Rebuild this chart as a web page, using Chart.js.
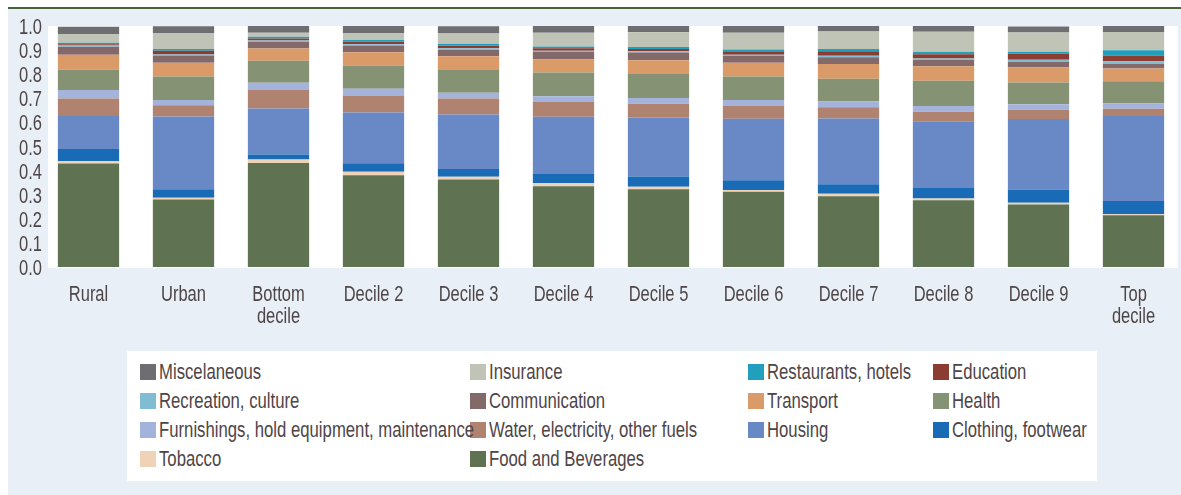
<!DOCTYPE html>
<html>
<head>
<meta charset="utf-8">
<script src="https://cdn.jsdelivr.net/npm/chart.js@4.4.1/dist/chart.umd.min.js"></script>
<style>
  html, body { margin: 0; padding: 0; background: #fff; }
  #wrap { position: relative; width: 1181px; height: 495px; overflow: hidden; }
  #bg { position: absolute; left: 8px; top: 9px; right: 0; bottom: 0; background: #e8eff6; }
  #topline { position: absolute; left: 8px; top: 7px; right: 0; height: 2px; background: #46613d; }
  #chart { position: absolute; left: 0; top: 0; }
  #legend {
    position: absolute; left: 127px; top: 351px; width: 970px; height: 130px;
    background: #fff; box-sizing: border-box; padding: 6px 0 0 13px;
    display: grid; grid-template-columns: 330px 278px 185px 160px; grid-auto-rows: 29px;
    font-family: "Liberation Sans", Arial, sans-serif;
    font-size: 22px; color: #4e4547;
  }
  .item { display: flex; align-items: center; white-space: nowrap; }
  .sw { width: 16px; height: 16px; margin-right: 3px; flex: none; }
  .txt { display: inline-block; transform: scaleX(0.76); transform-origin: left center; }
</style>
</head>
<body>
<div id="wrap">
  <div id="bg"></div>
  <div id="topline"></div>
  <canvas id="chart" width="1181" height="495"></canvas>
  <div id="legend"></div>
</div>
<script>
// categorias
const categorias = ['Rural', 'Urban', ['Bottom', 'decile'], 'Decile 2', 'Decile 3', 'Decile 4',
  'Decile 5', 'Decile 6', 'Decile 7', 'Decile 8', 'Decile 9', ['Top', 'decile']];

const yTicks = [0, 0.1, 0.2, 0.3, 0.4, 0.5, 0.6, 0.7, 0.8, 0.9, 1.0];

// valores (shares), de abajo hacia arriba
const food          = [0.429, 0.280, 0.432, 0.381, 0.363, 0.335, 0.323, 0.312, 0.294, 0.277, 0.259, 0.215];
const tobacco       = [0.010, 0.007, 0.014, 0.014, 0.011, 0.014, 0.010, 0.008, 0.010, 0.007, 0.008, 0.004];
const clothing      = [0.051, 0.036, 0.021, 0.035, 0.033, 0.037, 0.043, 0.040, 0.039, 0.044, 0.055, 0.055];
const housing       = [0.137, 0.301, 0.191, 0.211, 0.226, 0.237, 0.244, 0.255, 0.273, 0.277, 0.292, 0.353];
const water         = [0.072, 0.047, 0.079, 0.071, 0.066, 0.062, 0.057, 0.053, 0.047, 0.039, 0.039, 0.030];
const furnishings   = [0.035, 0.022, 0.028, 0.028, 0.024, 0.024, 0.024, 0.025, 0.024, 0.024, 0.022, 0.021];
const health        = [0.086, 0.097, 0.091, 0.096, 0.094, 0.098, 0.100, 0.097, 0.094, 0.105, 0.091, 0.093];
const transport     = [0.061, 0.058, 0.051, 0.055, 0.057, 0.054, 0.057, 0.058, 0.061, 0.060, 0.062, 0.053];
const communication = [0.033, 0.030, 0.028, 0.028, 0.026, 0.032, 0.032, 0.028, 0.028, 0.026, 0.024, 0.019];
const recreation    = [0.005, 0.004, 0.005, 0.005, 0.008, 0.004, 0.005, 0.005, 0.007, 0.006, 0.008, 0.011];
const education     = [0.005, 0.015, 0.008, 0.011, 0.010, 0.011, 0.010, 0.011, 0.018, 0.018, 0.025, 0.024];
const restaurants   = [0.006, 0.008, 0.007, 0.007, 0.008, 0.007, 0.008, 0.011, 0.010, 0.010, 0.008, 0.021];
const insurance     = [0.037, 0.066, 0.017, 0.029, 0.043, 0.057, 0.061, 0.069, 0.072, 0.083, 0.080, 0.076];
const misc          = [0.030, 0.028, 0.028, 0.030, 0.030, 0.028, 0.028, 0.028, 0.025, 0.025, 0.025, 0.025];

// series: nombre, datos, color
const series = [
  ['Food and Beverages', food, '#5f7352'],
  ['Tobacco', tobacco, '#f0d3b6'],
  ['Clothing, footwear', clothing, '#196bb6'],
  ['Housing', housing, '#6888c6'],
  ['Water, electricity, other fuels', water, '#b08270'],
  ['Furnishings, hold equipment, maintenance', furnishings, '#a3b3dc'],
  ['Health', health, '#859274'],
  ['Transport', transport, '#da9b69'],
  ['Communication', communication, '#84696b'],
  ['Recreation, culture', recreation, '#80bdd3'],
  ['Education', education, '#8a3d30'],
  ['Restaurants, hotels', restaurants, '#20a0bc'],
  ['Insurance', insurance, '#c0c4b6'],
  ['Miscelaneous', misc, '#6e6e72']
];

const FONT = '22px "Liberation Sans", Arial, sans-serif';
const TEXT = '#4e4547';
const SQUEEZE = 0.75; // letra condensada

// fondo blanco del area del grafico
const plotBg = {
  id: 'plotBg',
  beforeDraw(chart) {
    const { ctx, chartArea: a } = chart;
    ctx.save();
    ctx.fillStyle = '#ffffff';
    ctx.fillRect(a.left + 7, a.top, a.right - a.left - 10, a.bottom - a.top + 1);
    ctx.restore();
  }
};

// etiquetas de ejes dibujadas condensadas
function squeezedText(ctx, str, x, y, align) {
  ctx.save();
  ctx.translate(x, y);
  ctx.scale(SQUEEZE, 1);
  ctx.textAlign = align;
  ctx.fillText(str, 0, 0);
  ctx.restore();
}

const axisLabels = {
  id: 'axisLabels',
  afterDraw(chart) {
    const { ctx } = chart;
    const xs = chart.scales.x, ys = chart.scales.y;
    ctx.save();
    ctx.font = FONT;
    ctx.fillStyle = TEXT;
    ctx.textBaseline = 'alphabetic';
    yTicks.forEach(v => {
      squeezedText(ctx, v.toFixed(1), 42, ys.getPixelForValue(v) + 8, 'right');
    });
    categorias.forEach((c, i) => {
      const lines = Array.isArray(c) ? c : [c];
      const x = xs.getPixelForValue(i);
      lines.forEach((l, j) => squeezedText(ctx, l, x, 301 + j * 22, 'center'));
    });
    ctx.restore();
  }
};

const chart = new Chart(document.getElementById('chart'), {
  type: 'bar',
  data: {
    labels: categorias,
    datasets: series.map(s => ({
      label: s[0],
      data: s[1],
      backgroundColor: s[2],
      borderWidth: 0,
      barPercentage: 0.645,
      categoryPercentage: 1
    }))
  },
  options: {
    responsive: false,
    animation: false,
    layout: { padding: { top: 26, right: 0, left: 0, bottom: 0 } },
    plugins: { legend: { display: false }, tooltip: { enabled: false } },
    scales: {
      x: {
        stacked: true,
        grid: { display: false, drawTicks: false },
        border: { display: false },
        ticks: { display: false },
        afterFit: s => { s.height = 228; }
      },
      y: {
        stacked: true,
        min: 0, max: 1,
        grid: { display: false, drawTicks: false },
        border: { display: false },
        ticks: { display: false },
        afterFit: s => { s.width = 41; }
      }
    }
  },
  plugins: [plotBg, axisLabels]
});

// leyenda en 4 columnas, del tope de la pila hacia abajo
const legendEl = document.getElementById('legend');
series.slice().reverse().forEach(s => {
  const it = document.createElement('div');
  it.className = 'item';
  it.innerHTML = `<span class="sw" style="background:${s[2]}"></span><span class="txt">${s[0]}</span>`;
  legendEl.appendChild(it);
});
</script>
</body>
</html>
